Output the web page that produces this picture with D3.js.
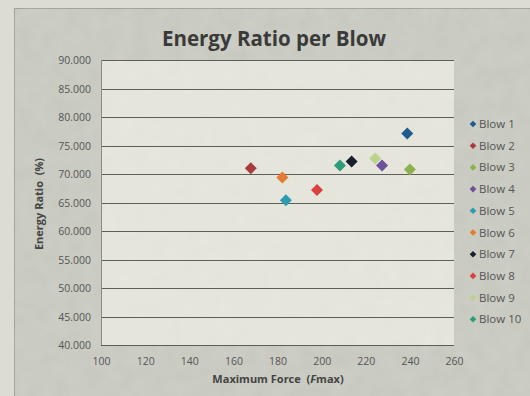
<!DOCTYPE html>
<html>
<head>
<meta charset="utf-8">
<script src="https://cdn.jsdelivr.net/npm/d3@7"></script>
<style>
  body { margin: 0; background: #dddcd3; }
  svg { display: block; }
  text { font-family: "Open Sans", "DejaVu Sans", sans-serif; white-space: pre; }
</style>
</head>
<body>
<svg id="chart" width="530" height="396"></svg>
<script>
// values
const series = ['Blow 1', 'Blow 2', 'Blow 3', 'Blow 4', 'Blow 5', 'Blow 6', 'Blow 7', 'Blow 8', 'Blow 9', 'Blow 10'];
const fmax = [238.8, 167.9, 240.0, 227.4, 183.8, 182.2, 213.6, 197.9, 224.3, 208.3];
const ratio = [77.1, 71.0, 70.8, 71.5, 65.4, 69.4, 72.2, 67.2, 72.7, 71.5];
const colors = ['#1f5b8c', '#a83a3c', '#8cb14e', '#6c519c', '#2c9bb2', '#e37b33', '#17202c', '#d9403f', '#bcd38e', '#2e9c78'];
const xTicks = [100, 120, 140, 160, 180, 200, 220, 240, 260];
const yTicks = [40, 45, 50, 55, 60, 65, 70, 75, 80, 85, 90];

const plot = { left: 101, right: 454, top: 60, bottom: 345 };

const svg = d3.select('#chart');

// mottled paper look
const filt = svg.append('defs').append('filter').attr('id', 'grain')
  .attr('x', 0).attr('y', 0).attr('width', 1).attr('height', 1);
filt.append('feTurbulence').attr('type', 'fractalNoise').attr('baseFrequency', 0.06)
  .attr('numOctaves', 3).attr('seed', 4).attr('result', 'noise');
filt.append('feColorMatrix').attr('in', 'noise').attr('type', 'matrix')
  .attr('values', '0 0 0 0 1  0 0 0 0 1  0 0 0 0 1  0 0 0 0.12 0').attr('result', 'speck');
filt.append('feComposite').attr('in', 'speck').attr('in2', 'SourceGraphic').attr('operator', 'atop');

// chart panel
svg.append('rect').attr('x', 14.5).attr('y', 8.5).attr('width', 530).attr('height', 400)
  .attr('fill', '#c6c7bd').attr('stroke', '#9c9d94').attr('filter', 'url(#grain)');

const x = d3.scaleLinear().domain([100, 260]).range([plot.left, plot.right]);
const y = d3.scaleLinear().domain([40, 90]).range([plot.bottom, plot.top]);

svg.append('rect').attr('x', plot.left).attr('y', plot.top)
  .attr('width', plot.right - plot.left).attr('height', plot.bottom - plot.top)
  .attr('fill', '#e3e3d9').attr('filter', 'url(#grain)');

// gridlines
svg.append('g').selectAll('line').data(yTicks).enter().append('line')
  .attr('x1', plot.left).attr('x2', plot.right)
  .attr('y1', d => Math.round(y(d)) + 0.5).attr('y2', d => Math.round(y(d)) + 0.5)
  .attr('stroke', '#5e5e5a').attr('stroke-width', 1);

// plot border left
svg.append('line').attr('x1', plot.left + 0.5).attr('x2', plot.left + 0.5)
  .attr('y1', plot.top).attr('y2', plot.bottom).attr('stroke', '#8a8a84');

// y axis labels
const yAxis = svg.append('g').attr('transform', `translate(${plot.left - 10},0)`)
  .call(d3.axisLeft(y).tickValues(yTicks).tickSize(0).tickFormat(d3.format('.3f')));
yAxis.select('.domain').remove();
yAxis.selectAll('text').attr('font-size', 10.5).attr('fill', '#555').attr('x', 0).attr('dy', '0.35em');

// x axis labels
const xAxis = svg.append('g').attr('transform', `translate(0,${plot.bottom + 12})`)
  .call(d3.axisBottom(x).tickValues(xTicks).tickSize(0));
xAxis.select('.domain').remove();
xAxis.selectAll('text').attr('font-size', 10.5).attr('fill', '#555').attr('y', 0).attr('dy', '0.8em');

// title
svg.append('text').attr('x', 274).attr('y', 46).attr('text-anchor', 'middle')
  .attr('font-size', 20.5).attr('font-weight', 'bold').attr('fill', '#3a3a3a')
  .text('Energy Ratio per Blow');

// axis titles
const xt = svg.append('text').attr('x', 278).attr('y', 383).attr('text-anchor', 'middle')
  .attr('font-size', 11).attr('font-weight', 'bold').attr('fill', '#444');
xt.append('tspan').text('Maximum Force  (');
xt.append('tspan').attr('font-style', 'italic').text('F');
xt.append('tspan').text('max)');

svg.append('text').attr('transform', 'translate(43,204) rotate(-90)').attr('text-anchor', 'middle')
  .attr('font-size', 11).attr('font-weight', 'bold').attr('fill', '#444')
  .text('Energy Ratio  (%)');

// points
const diamond = d3.symbol().type(d3.symbolSquare).size(72);
svg.append('g').selectAll('path').data(series).enter().append('path')
  .attr('d', diamond)
  .attr('transform', (d, i) => `translate(${x(fmax[i])},${y(ratio[i])}) rotate(45)`)
  .attr('fill', (d, i) => colors[i]);

// legend
const legend = svg.append('g').selectAll('g').data(series).enter().append('g')
  .attr('transform', (d, i) => `translate(473,${124 + i * 21.7})`);
legend.append('path').attr('d', d3.symbol().type(d3.symbolSquare).size(22)).attr('transform', 'rotate(45)')
  .attr('fill', (d, i) => colors[i]);
legend.append('text').attr('x', 6).attr('dy', '0.35em').attr('font-size', 11.5).attr('fill', '#555')
  .text(d => d);
</script>
</body>
</html>
